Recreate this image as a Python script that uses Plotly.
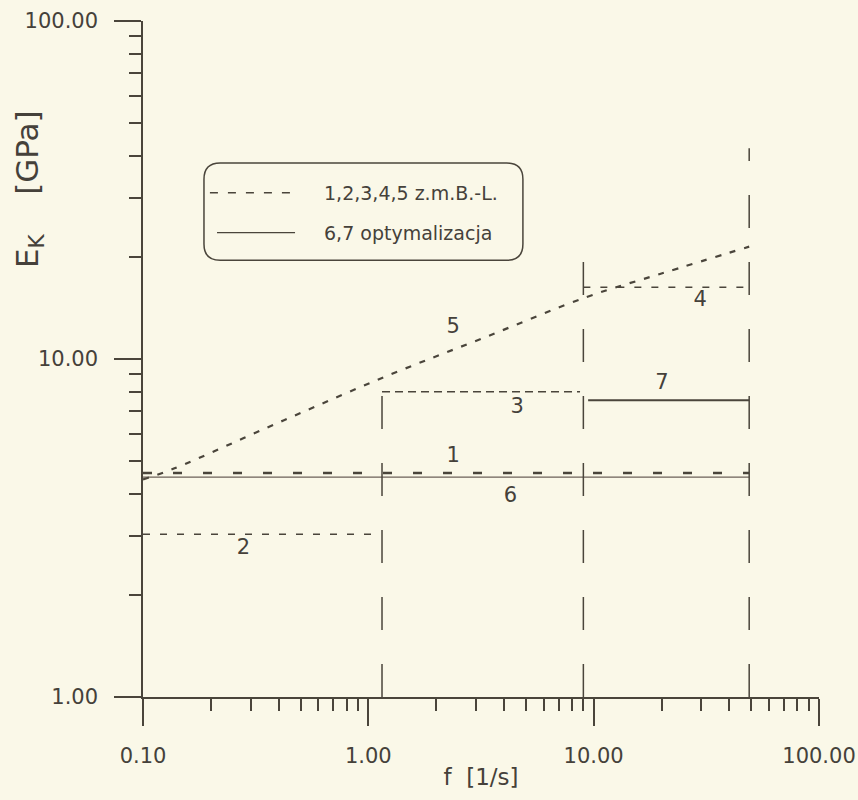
import plotly.graph_objects as go

# ---- data ----
f_line1 = [0.1, 49.0];  E_line1 = [4.6, 4.6]          # 1 z.m.B.-L.
f_line2 = [0.1, 1.10];  E_line2 = [3.03, 3.03]        # 2
f_line3 = [1.15, 8.7];  E_line3 = [8.0, 8.0]          # 3
f_line4 = [9.0, 49.0];  E_line4 = [16.3, 16.3]        # 4
f_line5 = [0.1, 0.137, 0.42, 1.23, 3.3, 9.3, 20.0, 49.0]
E_line5 = [4.4, 4.74, 6.58, 8.95, 11.6, 15.25, 17.9, 21.5]  # 5
f_line6 = [0.1, 49.0];  E_line6 = [4.47, 4.47]        # 6 optymalizacja
f_line7 = [9.45, 49.0]; E_line7 = [7.55, 7.55]        # 7 optymalizacja

f_bounds = [1.15, 9.0, 49.0]       # vertical range boundaries
E_bound_top = [8.0, 20.0, 42.0]

label_text = ["1", "2", "3", "4", "5", "6", "7"]
label_f = [2.38, 0.279, 4.58, 29.7, 2.38, 4.27, 20.1]
label_E = [5.13, 2.75, 7.15, 14.9, 12.4, 3.90, 8.47]

x_tickvals = [0.1, 1, 10, 100]
x_ticktext = ["0.10", "1.00", "10.00", "100.00"]
y_tickvals = [1, 10, 100]
y_ticktext = ["1.00", "10.00", "100.00"]

legend_labels = ["1,2,3,4,5 z.m.B.-L.", "6,7 optymalizacja"]

# ---- style ----
BG = "#FAF8E8"
INK = "#4a453b"
TXT = "#45413a"
FONT = "DejaVu Sans"

fig = go.Figure()

def add_line(x, y, dash, width, color=INK, shape="linear"):
    fig.add_trace(go.Scatter(x=x, y=y, mode="lines", showlegend=False,
                             hoverinfo="skip",
                             line=dict(color=color, width=width, dash=dash, shape=shape)))

add_line(f_line6, E_line6, "solid", 1.3, "#6b6158")
add_line(f_line1, E_line1, "9px,21px", 2.6)
add_line(f_line2, E_line2, "7px,10px", 1.6)
add_line(f_line3, E_line3, "8px,5px", 1.6)
add_line(f_line4, E_line4, "7px,10px", 1.6)
add_line(f_line5, E_line5, "6px,9px", 2.2, shape="spline")
add_line(f_line7, E_line7, "solid", 1.8)

for fb, top in zip(f_bounds, E_bound_top):
    add_line([fb, fb], [1, top], "33px,34px", 1.5)

fig.add_trace(go.Scatter(x=label_f, y=label_E, mode="text", text=label_text,
                         textfont=dict(family=FONT, size=21, color=TXT),
                         showlegend=False, hoverinfo="skip"))

minor_x = [d * 10 ** k for k in (-1, 0, 1) for d in range(2, 10)]
minor_y = [d * 10 ** k for k in (0, 1) for d in range(2, 10)]

axis_common = dict(
    showline=True, linecolor=INK, linewidth=1.5, showgrid=False, zeroline=False,
    ticks="outside", ticklen=27, tickwidth=1.5, tickcolor=INK, automargin=False,
    tickfont=dict(family=FONT, size=21, color=TXT), ticklabelstandoff=12,
)

fig.update_xaxes(type="log", range=[-1, 2], tickmode="array",
                 tickvals=x_tickvals, ticktext=x_ticktext,
                 minor=dict(tickvals=minor_x, ticks="outside", ticklen=12,
                            tickwidth=1.5, tickcolor=INK, showgrid=False),
                 title=dict(text="f  [1/s]", font=dict(family=FONT, size=23, color=TXT),
                            standoff=2),
                 **axis_common)
fig.update_yaxes(type="log", range=[0, 2], tickmode="array",
                 tickvals=y_tickvals, ticktext=y_ticktext,
                 minor=dict(tickvals=minor_y, ticks="outside", ticklen=12,
                            tickwidth=1.5, tickcolor=INK, showgrid=False),
                 **axis_common)

# y-axis title placed high on the left, as in the reference
fig.add_annotation(text="E<sub>K</sub>    [GPa]", xref="paper", yref="paper",
                   x=-0.168, y=0.752, textangle=-90, showarrow=False,
                   xanchor="center", yanchor="middle",
                   font=dict(family=FONT, size=31, color=TXT))

# ---- legend box (rounded) ----
x0, x1, y0, y1, r = 0.0902, 0.562, 0.646, 0.790, 0.024
path = (f"M {x0+r},{y0} L {x1-r},{y0} Q {x1},{y0} {x1},{y0+r} "
        f"L {x1},{y1-r} Q {x1},{y1} {x1-r},{y1} L {x0+r},{y1} "
        f"Q {x0},{y1} {x0},{y1-r} L {x0},{y0+r} Q {x0},{y0} {x0+r},{y0} Z")
fig.add_shape(type="path", path=path, xref="paper", yref="paper",
              line=dict(color=INK, width=1.5))
fig.add_shape(type="line", xref="paper", yref="paper", x0=0.099, x1=0.2175,
              y0=0.746, y1=0.746, line=dict(color=INK, width=1.6, dash="8px,10px"))
fig.add_shape(type="line", xref="paper", yref="paper", x0=0.1095, x1=0.2249,
              y0=0.6868, y1=0.6868, line=dict(color=INK, width=1.3))
for lbl, yy in zip(legend_labels, [0.746, 0.6868]):
    fig.add_annotation(text=lbl, xref="paper", yref="paper", x=0.2648, y=yy,
                       xanchor="left", yanchor="middle", showarrow=False,
                       font=dict(family=FONT, size=19, color=TXT))

fig.update_layout(
    width=858, height=800,
    margin=dict(l=143, r=39, t=21, b=103),
    paper_bgcolor=BG, plot_bgcolor=BG,
    showlegend=False,
)

fig.write_html("out.html")
